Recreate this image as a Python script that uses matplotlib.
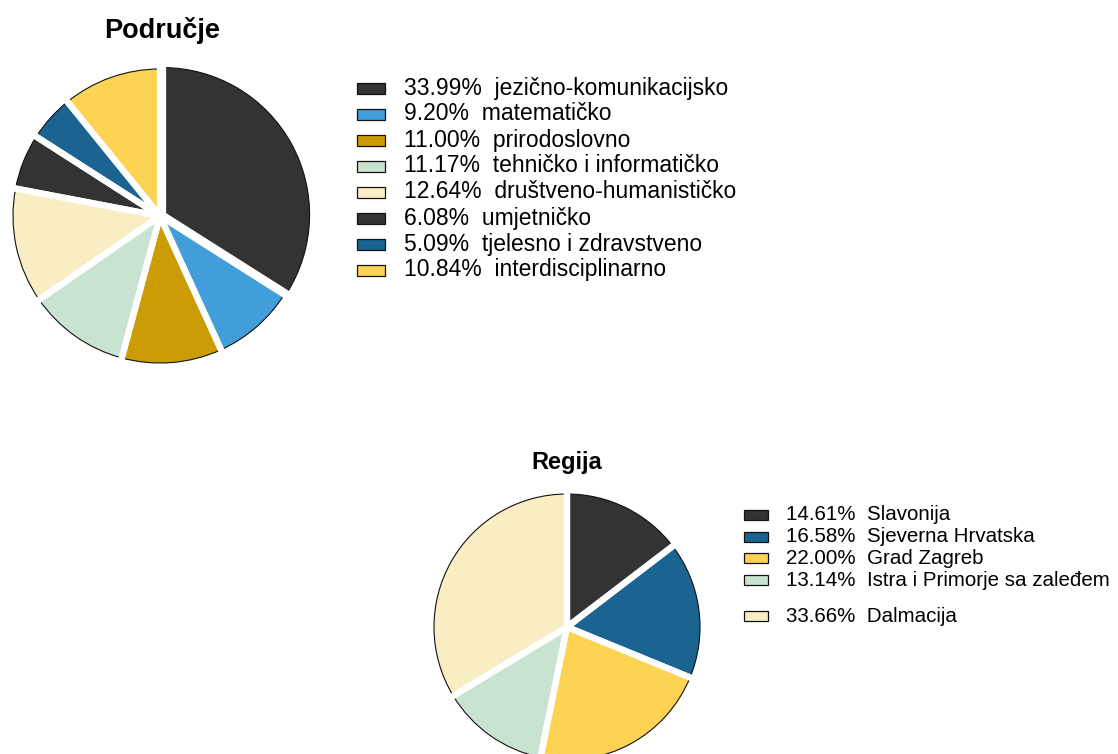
import numpy as np
import matplotlib
matplotlib.use('Agg')
import matplotlib.pyplot as plt
from matplotlib.patches import Rectangle

plt.rcParams['font.family'] = ['Liberation Sans', 'DejaVu Sans']

# data
podrucje_names = ['jezično-komunikacijsko', 'matematičko', 'prirodoslovno',
                  'tehničko i informatičko', 'društveno-humanističko',
                  'umjetničko', 'tjelesno i zdravstveno', 'interdisciplinarno']
podrucje_pct = [33.99, 9.20, 11.00, 11.17, 12.64, 6.08, 5.09, 10.84]
podrucje_colors = ['#333333', '#429edb', '#cc9c04', '#c8e3cf', '#f8edc3',
                   '#333333', '#1b6391', '#fcd353']

regija_names = ['Slavonija', 'Sjeverna Hrvatska', 'Grad Zagreb',
                'Istra i Primorje sa zaleđem', 'Dalmacija']
regija_pct = [14.61, 16.58, 22.00, 13.14, 33.66]
regija_colors = ['#333333', '#1b6391', '#fcd353', '#c8e3cf', '#f8edc3']

W, H = 1118, 754
fig = plt.figure(figsize=(W / 100, H / 100), dpi=100)


def px_axes(cx, cy, r):
    # axes box in figure fraction from pixel center / radius
    return fig.add_axes([(cx - r) / W, 1 - (cy + r) / H, 2 * r / W, 2 * r / H])


def draw_pie(ax, vals, cols, first_explode):
    explode = [first_explode] + [0.0] * (len(vals) - 1)
    wedges, _ = ax.pie(vals, colors=cols, startangle=90, counterclock=False,
                       explode=explode,
                       wedgeprops=dict(edgecolor='#111111', linewidth=0.8))
    # white gaps over the radial edges, keeps the thin dark outer rim
    for w in wedges:
        w.set_clip_on(False)
        cx, cy = w.center
        for th in (w.theta1, w.theta2):
            t = np.deg2rad(th)
            ax.plot([cx, cx + 1.03 * w.r * np.cos(t)],
                    [cy, cy + 1.03 * w.r * np.sin(t)],
                    color='white', lw=4.5, solid_capstyle='butt', clip_on=False)
    ax.set_xlim(-1.0, 1.0)
    ax.set_ylim(-1.0, 1.0)
    ax.set_aspect('equal')
    ax.axis('off')
    return wedges


def draw_legend(x0, ys, w, h, tx, cols, labels, fs):
    for y, c, lab in zip(ys, cols, labels):
        fig.patches.append(Rectangle((x0 / W, 1 - (y + h / 2) / H), w / W, h / H,
                                     transform=fig.transFigure, facecolor=c,
                                     edgecolor='#111111', lw=0.9))
        fig.text(tx / W, 1 - y / H, lab, ha='left', va='center', fontsize=fs)


# top pie
ax1 = px_axes(160, 216, 147)
draw_pie(ax1, podrucje_pct, podrucje_colors, 0.02)
fig.text(162 / W, 1 - 31 / H, 'Područje', ha='center', va='center',
         fontsize=19.5, fontweight='bold')
lab1 = ['%.2f%%  %s' % (p, n) for p, n in zip(podrucje_pct, podrucje_names)]
ys1 = [88 + 26 * i for i in range(len(lab1))]
draw_legend(357, ys1, 28, 11, 404, podrucje_colors, lab1, 16.5)

# bottom pie
ax2 = px_axes(567, 627, 133)
draw_pie(ax2, regija_pct, regija_colors, 0.0)
fig.text(567 / W, 1 - 463 / H, 'Regija', ha='center', va='center',
         fontsize=17, fontweight='bold')
lab2 = ['%.2f%%  %s' % (p, n) for p, n in zip(regija_pct, regija_names)]
ys2 = [515, 537, 558, 580, 616]
draw_legend(744, ys2, 24, 10, 786, regija_colors, lab2, 14.8)

fig.savefig('out.png', dpi=100)
